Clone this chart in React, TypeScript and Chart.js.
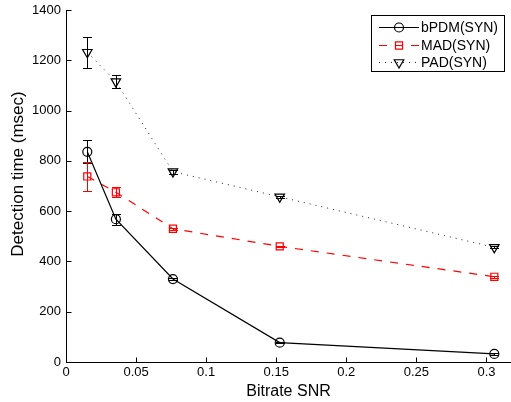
import React, { useEffect, useRef } from "react";
import { Chart, registerables } from "chart.js";

Chart.register(...registerables);

// ---- data ----
const xValues = [0.0152, 0.0356, 0.0763, 0.1525, 0.3056];
const bpdmValues = [836, 568, 330, 77, 32];
const bpdmErrors = [46, 22, 4, 3, 3];
const madValues = [738, 675, 530, 460, 339];
const madErrors = [56, 20, 4, 3, 3];
const padValues = [1232, 1115, 757, 657, 456];
const padErrors = [62, 26, 8, 4, 4];
const seriesLabels = ["bPDM(SYN)", "MAD(SYN)", "PAD(SYN)"];
const xTicks = [0, 0.05, 0.1, 0.15, 0.2, 0.25, 0.3];
const yTicks = [0, 200, 400, 600, 800, 1000, 1200, 1400];
const xTitle = "Bitrate SNR";
const yTitle = "Detection time (msec)";
const X_MIN = 0;
const X_MAX = 0.3175;
const Y_MIN = 0;
const Y_MAX = 1400;

// ---- style ----
const FONT = '"Liberation Sans", Arial, Helvetica, sans-serif';
const CAP = 4.5;
const TICK_LEN = 5;

function drawMarker(ctx: CanvasRenderingContext2D, style: string, x: number, y: number, r: number) {
  ctx.beginPath();
  if (style === "circle") {
    ctx.arc(x, y, r, 0, Math.PI * 2);
  } else if (style === "rect") {
    const s = r * Math.SQRT1_2;
    ctx.rect(x - s, y - s, 2 * s, 2 * s);
  } else if (style === "triangle") {
    for (let k = 0; k < 3; k++) {
      const a = Math.PI / 2 + (k * 2 * Math.PI) / 3;
      const px = x + Math.cos(a) * r;
      const py = y + Math.sin(a) * r;
      if (k === 0) ctx.moveTo(px, py);
      else ctx.lineTo(px, py);
    }
    ctx.closePath();
  }
  ctx.stroke();
}

const errorBarPlugin = {
  id: "errorBars",
  afterDatasetsDraw(chart: any) {
    const { ctx } = chart;
    const xs = chart.scales.x;
    const ys = chart.scales.y;
    chart.data.datasets.forEach((ds: any) => {
      const errs: number[] = ds.errors;
      if (!errs) return;
      ctx.save();
      ctx.strokeStyle = ds.pointBorderColor;
      ctx.lineWidth = 1;
      ctx.setLineDash([]);
      ds.data.forEach((p: any, i: number) => {
        const px = Math.round(xs.getPixelForValue(p.x)) + 0.5;
        const top = Math.round(ys.getPixelForValue(p.y + errs[i])) + 0.5;
        const bot = Math.round(ys.getPixelForValue(p.y - errs[i])) + 0.5;
        ctx.beginPath();
        ctx.moveTo(px, top);
        ctx.lineTo(px, bot);
        ctx.moveTo(px - CAP, top);
        ctx.lineTo(px + CAP, top);
        ctx.moveTo(px - CAP, bot);
        ctx.lineTo(px + CAP, bot);
        ctx.stroke();
      });
      ctx.restore();
    });
  },
};

const axisDecorPlugin = {
  id: "axisDecor",
  afterDraw(chart: any) {
    const { ctx, chartArea } = chart;
    const xs = chart.scales.x;
    const ys = chart.scales.y;
    ctx.save();
    ctx.strokeStyle = "#000";
    ctx.lineWidth = 1;
    ctx.setLineDash([]);
    ctx.beginPath();
    xTicks.forEach((v) => {
      const px = Math.round(xs.getPixelForValue(v)) + 0.5;
      const b = Math.round(chartArea.bottom) + 0.5;
      ctx.moveTo(px, b);
      ctx.lineTo(px, b - TICK_LEN);
    });
    yTicks.forEach((v) => {
      const py = Math.round(ys.getPixelForValue(v)) + 0.5;
      const l = Math.round(chartArea.left) + 0.5;
      ctx.moveTo(l, py);
      ctx.lineTo(l + TICK_LEN, py);
    });
    ctx.stroke();

    // y-axis title
    ctx.fillStyle = "#000";
    ctx.font = `17px ${FONT}`;
    ctx.textAlign = "center";
    ctx.textBaseline = "middle";
    ctx.translate(18, (chartArea.top + chartArea.bottom) / 2 - 12);
    ctx.rotate(-Math.PI / 2);
    ctx.fillText(yTitle, 0, 0);
    ctx.restore();
  },
};

const legendPlugin = {
  id: "matlabLegend",
  afterDraw(chart: any) {
    const { ctx, chartArea } = chart;
    const boxW = 133;
    const boxH = 56;
    const right = chartArea.right - 7;
    const left = right - boxW;
    const top = chartArea.top + 5;
    ctx.save();
    ctx.fillStyle = "#fff";
    ctx.fillRect(left, top, boxW, boxH);
    ctx.strokeStyle = "#000";
    ctx.lineWidth = 1;
    ctx.setLineDash([]);
    ctx.strokeRect(Math.round(left) + 0.5, Math.round(top) + 0.5, boxW, boxH);
    ctx.font = `14px ${FONT}`;
    ctx.textBaseline = "middle";
    ctx.textAlign = "left";
    chart.data.datasets.forEach((ds: any, i: number) => {
      const cy = Math.round(top + 12 + i * 17.5) + 0.5;
      const x0 = left + 8;
      const x1 = left + 48;
      ctx.strokeStyle = ds.borderColor;
      ctx.lineWidth = ds.borderWidth;
      ctx.setLineDash(ds.borderDash || []);
      ctx.beginPath();
      ctx.moveTo(x0, cy);
      ctx.lineTo(x1, cy);
      ctx.stroke();
      ctx.setLineDash([]);
      ctx.lineWidth = ds.pointBorderWidth;
      ctx.strokeStyle = ds.pointBorderColor;
      drawMarker(ctx, ds.markerStyle, (x0 + x1) / 2, cy, ds.pointRadius);
      ctx.fillStyle = "#000";
      ctx.fillText(ds.label, left + 50, cy + 0.5);
    });
    ctx.restore();
  },
};

function toPoints(values: number[]) {
  return values.map((v, i) => ({ x: xValues[i], y: v }));
}

function zeroPadding(scale: any) {
  scale.paddingLeft = 0;
  scale.paddingRight = 0;
  scale.paddingTop = 0;
  scale.paddingBottom = 0;
}

export default function App() {
  const ref = useRef<HTMLCanvasElement | null>(null);

  useEffect(() => {
    if (!ref.current) return;
    const common = {
      tension: 0,
      fill: false,
      pointBackgroundColor: "rgba(0,0,0,0)",
      pointBorderWidth: 1.2,
      pointHoverRadius: 5,
    };
    const chart = new Chart(ref.current, {
      type: "line",
      data: {
        datasets: [
          {
            ...common,
            label: seriesLabels[0],
            data: toPoints(bpdmValues),
            errors: bpdmErrors,
            borderColor: "#000",
            pointBorderColor: "#000",
            borderWidth: 1.2,
            borderDash: [],
            pointStyle: "circle",
            markerStyle: "circle",
            pointRadius: 4.5,
          },
          {
            ...common,
            label: seriesLabels[1],
            data: toPoints(madValues),
            errors: madErrors,
            borderColor: "#ff0000",
            pointBorderColor: "#ff0000",
            borderWidth: 1.2,
            borderDash: [8, 8],
            pointStyle: "rect",
            markerStyle: "rect",
            pointRadius: 5,
          },
          {
            ...common,
            label: seriesLabels[2],
            data: toPoints(padValues),
            errors: padErrors,
            borderColor: "#222",
            pointBorderColor: "#000",
            borderWidth: 1,
            borderDash: [1, 5],
            pointStyle: "triangle",
            pointRotation: 180,
            markerStyle: "triangle",
            pointRadius: 5.5,
          },
        ] as any,
      },
      options: {
        responsive: false,
        animation: false,
        devicePixelRatio: 1,
        layout: { autoPadding: false, padding: { top: 10, right: 0, bottom: 0, left: 0 } },
        plugins: {
          legend: { display: false },
          tooltip: { enabled: false },
        },
        scales: {
          x: {
            type: "linear",
            min: X_MIN,
            max: X_MAX,
            afterBuildTicks: (scale: any) => {
              scale.ticks = xTicks.map((v) => ({ value: v }));
            },
            afterFit: (scale: any) => {
              scale.height = 40;
              zeroPadding(scale);
            },
            grid: { display: false, drawTicks: false },
            border: { display: true, color: "#000", width: 1 },
            ticks: {
              color: "#000",
              font: { family: FONT, size: 13 },
              padding: 3,
              maxRotation: 0,
              autoSkip: false,
              callback: (v: any) => String(v),
            },
            title: {
              display: true,
              text: xTitle,
              color: "#000",
              font: { family: FONT, size: 16 },
              padding: { top: 0, bottom: 0.5 },
            },
          },
          y: {
            type: "linear",
            min: Y_MIN,
            max: Y_MAX,
            afterBuildTicks: (scale: any) => {
              scale.ticks = yTicks.map((v) => ({ value: v }));
            },
            afterFit: (scale: any) => {
              scale.width = 66;
              zeroPadding(scale);
            },
            grid: { display: false, drawTicks: false },
            border: { display: true, color: "#000", width: 1 },
            ticks: {
              color: "#000",
              font: { family: FONT, size: 13 },
              padding: 5,
              autoSkip: false,
              callback: (v: any) => String(v),
            },
          },
        },
      },
      plugins: [errorBarPlugin, axisDecorPlugin, legendPlugin],
    } as any);
    return () => chart.destroy();
  }, []);

  return (
    <div style={{ position: "absolute", left: 0, top: 0, width: 511, height: 402, background: "#fff" }}>
      <canvas ref={ref} width={511} height={402} style={{ display: "block" }} />
    </div>
  );
}
